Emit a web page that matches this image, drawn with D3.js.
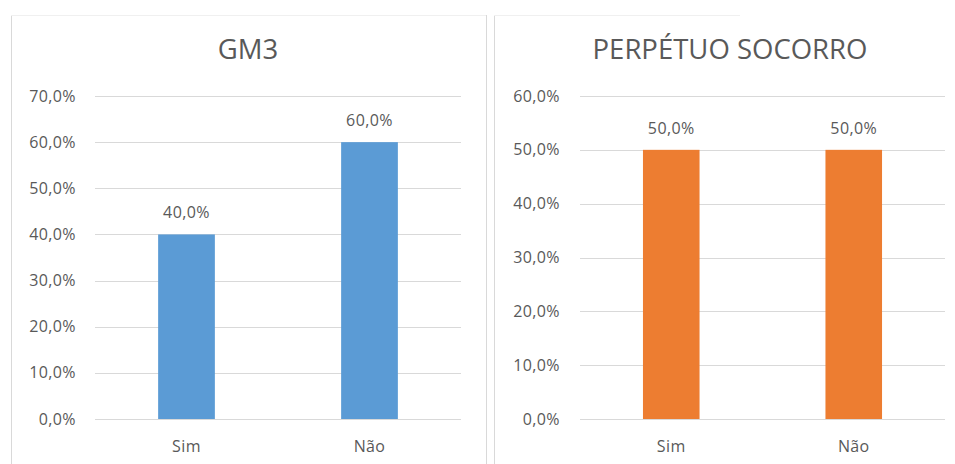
<!DOCTYPE html>
<html>
<head>
<meta charset="utf-8">
<script src="https://cdn.jsdelivr.net/npm/d3@7/dist/d3.min.js"></script>
<style>
  html, body { margin: 0; padding: 0; background: #fff; }
  svg { display: block; }
  text { font-family: "Open Sans", "Liberation Sans", sans-serif; fill: #595959; }
</style>
</head>
<body>
<svg id="chart" width="955" height="464"></svg>
<script>
// Data
const categories = ["Sim", "Não"];
const gm3Values = [0.40, 0.60];
const socorroValues = [0.50, 0.50];
const gm3Ticks = [0, 0.1, 0.2, 0.3, 0.4, 0.5, 0.6, 0.7];
const socorroTicks = [0, 0.1, 0.2, 0.3, 0.4, 0.5, 0.6];
const titles = ["GM3", "PERPÉTUO SOCORRO"];
const colors = ["#5B9BD5", "#ED7D31"];

const fmt = v => d3.format(".1f")(v * 100).replace(".", ",") + "%";

const svg = d3.select("#chart");

// Panel frames
const frames = svg.append("g").attr("stroke", "#d9d9d9").attr("fill", "none");
frames.append("line").attr("x1", 11.5).attr("x2", 11.5).attr("y1", 15).attr("y2", 464);
frames.append("line").attr("x1", 486.5).attr("x2", 486.5).attr("y1", 15).attr("y2", 464);
frames.append("line").attr("x1", 494.5).attr("x2", 494.5).attr("y1", 15).attr("y2", 464);
frames.append("line").attr("x1", 11).attr("x2", 486).attr("y1", 15.5).attr("y2", 15.5).attr("stroke", "#f0f0f0");
frames.append("line").attr("x1", 494).attr("x2", 740).attr("y1", 15.5).attr("y2", 15.5).attr("stroke", "#f0f0f0");

const panels = [
  { title: titles[0], values: gm3Values, ticks: gm3Ticks, color: colors[0],
    titleX: 248, x0: 95, x1: 461, tickX: 76 },
  { title: titles[1], values: socorroValues, ticks: socorroTicks, color: colors[1],
    titleX: 730, x0: 580, x1: 945, tickX: 560 }
];

const plotTop = 96, plotBottom = 419;
const labelStyle = sel => sel.style("font-size", "16px").style("letter-spacing", "0.4px");

panels.forEach(p => {
  const g = svg.append("g");
  const maxTick = p.ticks[p.ticks.length - 1];
  const y = d3.scaleLinear().domain([0, maxTick]).range([plotBottom, plotTop]);
  const x = d3.scaleBand().domain(categories).range([p.x0, p.x1]).paddingInner(0.69).paddingOuter(0.345);

  // Title
  g.append("text")
    .attr("x", p.titleX).attr("y", 59)
    .attr("text-anchor", "middle")
    .style("font-size", "27.5px")
    .text(p.title);

  // Gridlines
  g.append("g").selectAll("line").data(p.ticks).join("line")
    .attr("x1", p.x0).attr("x2", p.x1)
    .attr("y1", d => Math.round(y(d)) + 0.5).attr("y2", d => Math.round(y(d)) + 0.5)
    .attr("stroke", "#d9d9d9");

  // Y axis labels
  const yAxis = d3.axisLeft(y).tickValues(p.ticks).tickFormat(fmt).tickSize(0).tickPadding(0);
  const ax = g.append("g").attr("transform", `translate(${p.tickX},0)`).call(yAxis);
  ax.select(".domain").remove();
  ax.selectAll("text").attr("fill", "#595959").attr("font-family", null).call(labelStyle);

  // X axis labels
  const xAxis = d3.axisBottom(x).tickSize(0).tickPadding(0);
  const xa = g.append("g").attr("transform", `translate(0,${plotBottom})`).call(xAxis);
  xa.select(".domain").remove();
  xa.selectAll("text").attr("fill", "#595959").attr("font-family", null)
    .attr("dy", null).attr("y", 33).call(labelStyle);

  // Bars
  g.append("g").selectAll("rect").data(p.values).join("rect")
    .attr("x", (d, i) => x(categories[i]))
    .attr("width", x.bandwidth())
    .attr("y", d => y(d))
    .attr("height", d => plotBottom - y(d))
    .attr("fill", p.color);

  // Value labels
  g.append("g").selectAll("text").data(p.values).join("text")
    .attr("x", (d, i) => x(categories[i]) + x.bandwidth() / 2)
    .attr("y", d => y(d) - 16)
    .attr("text-anchor", "middle")
    .call(labelStyle)
    .text(fmt);
});
</script>
</body>
</html>
